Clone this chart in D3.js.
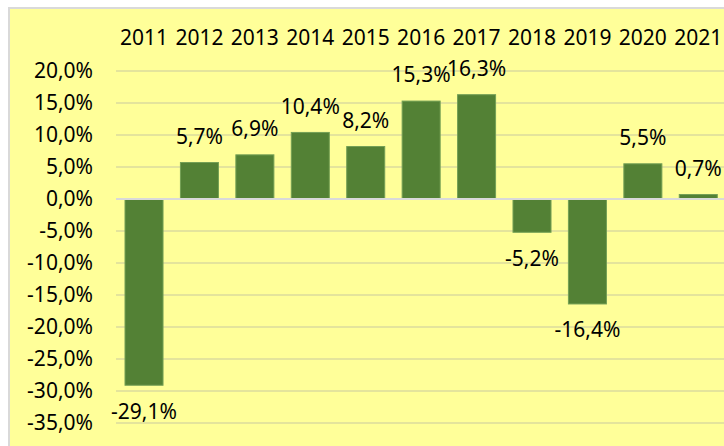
<!DOCTYPE html>
<html>
<head>
<meta charset="utf-8">
<script src="https://cdn.jsdelivr.net/npm/d3@7"></script>
<style>
  html, body { margin: 0; padding: 0; background: #fff; }
  svg text { font-family: "Noto Sans", "Open Sans", sans-serif; fill: #000; }
</style>
</head>
<body>
<div id="chart"></div>
<script>
// Yearly change, percent
const years = ['2011', '2012', '2013', '2014', '2015', '2016', '2017', '2018', '2019', '2020', '2021'];
const values = [-29.1, 5.7, 6.9, 10.4, 8.2, 15.3, 16.3, -5.2, -16.4, 5.5, 0.7];
const yTicks = [20, 15, 10, 5, 0, -5, -10, -15, -20, -25, -30, -35];

const width = 724, height = 446;
const fontSize = '21px';
const fontFamily = '"Noto Sans", "Open Sans", sans-serif';
const fmt = v => d3.format('.1f')(v).replace('.', ',').replace('−', '-') + '%';

const svg = d3.select('#chart').append('svg')
    .attr('width', width)
    .attr('height', height);

// Chart area background + border
svg.append('rect')
    .attr('x', 9).attr('y', 8)
    .attr('width', width).attr('height', height)
    .attr('fill', '#ffff99')
    .attr('stroke', '#d9d9d9')
    .attr('stroke-width', 2);

const x = d3.scaleBand()
    .domain(years)
    .range([116.3, 726])
    .paddingInner(0.314)
    .paddingOuter(0.157);

const y = d3.scaleLinear()
    .domain([-35, 20])
    .range([423, 71]);

// Gridlines
svg.append('g')
    .selectAll('line')
    .data(yTicks.filter(d => d !== 0))
    .enter()
    .append('line')
    .attr('x1', 116).attr('x2', width)
    .attr('y1', d => y(d)).attr('y2', d => y(d))
    .attr('stroke', '#e4e49c')
    .attr('stroke-width', 2);

// Y axis labels
const yAxis = d3.axisLeft(y)
    .tickValues(yTicks)
    .tickFormat(fmt)
    .tickSize(0)
    .tickPadding(0);

svg.append('g')
    .attr('transform', 'translate(93,0)')
    .call(yAxis)
    .call(g => g.select('.domain').remove())
    .selectAll('text')
    .attr('font-size', fontSize)
    .attr('font-family', fontFamily)
    .attr('fill', '#000');

// Bars
svg.append('g')
    .selectAll('rect')
    .data(years)
    .enter()
    .append('rect')
    .attr('x', d => x(d))
    .attr('width', x.bandwidth())
    .attr('y', (d, i) => y(Math.max(0, values[i])))
    .attr('height', (d, i) => Math.abs(y(values[i]) - y(0)))
    .attr('fill', '#538135')
    .attr('stroke', '#74a055')
    .attr('stroke-width', 1);

// Zero line
svg.append('line')
    .attr('x1', 116).attr('x2', width)
    .attr('y1', y(0)).attr('y2', y(0))
    .attr('stroke', '#d9d9d9')
    .attr('stroke-width', 2);

// Category labels at top
const xAxis = d3.axisTop(x).tickSize(0).tickPadding(0);
svg.append('g')
    .attr('transform', 'translate(0,38)')
    .call(xAxis)
    .call(g => g.select('.domain').remove())
    .selectAll('text')
    .attr('dy', '0.35em')
    .attr('font-size', fontSize)
    .attr('font-family', fontFamily)
    .attr('fill', '#000');

// Data labels
svg.append('g')
    .selectAll('text')
    .data(years)
    .enter()
    .append('text')
    .attr('x', d => x(d) + x.bandwidth() / 2)
    .attr('y', (d, i) => y(values[i]) + (values[i] >= 0 ? -26 : 26))
    .attr('dy', '0.35em')
    .attr('text-anchor', 'middle')
    .attr('font-size', fontSize)
    .text((d, i) => fmt(values[i]));
</script>
</body>
</html>
